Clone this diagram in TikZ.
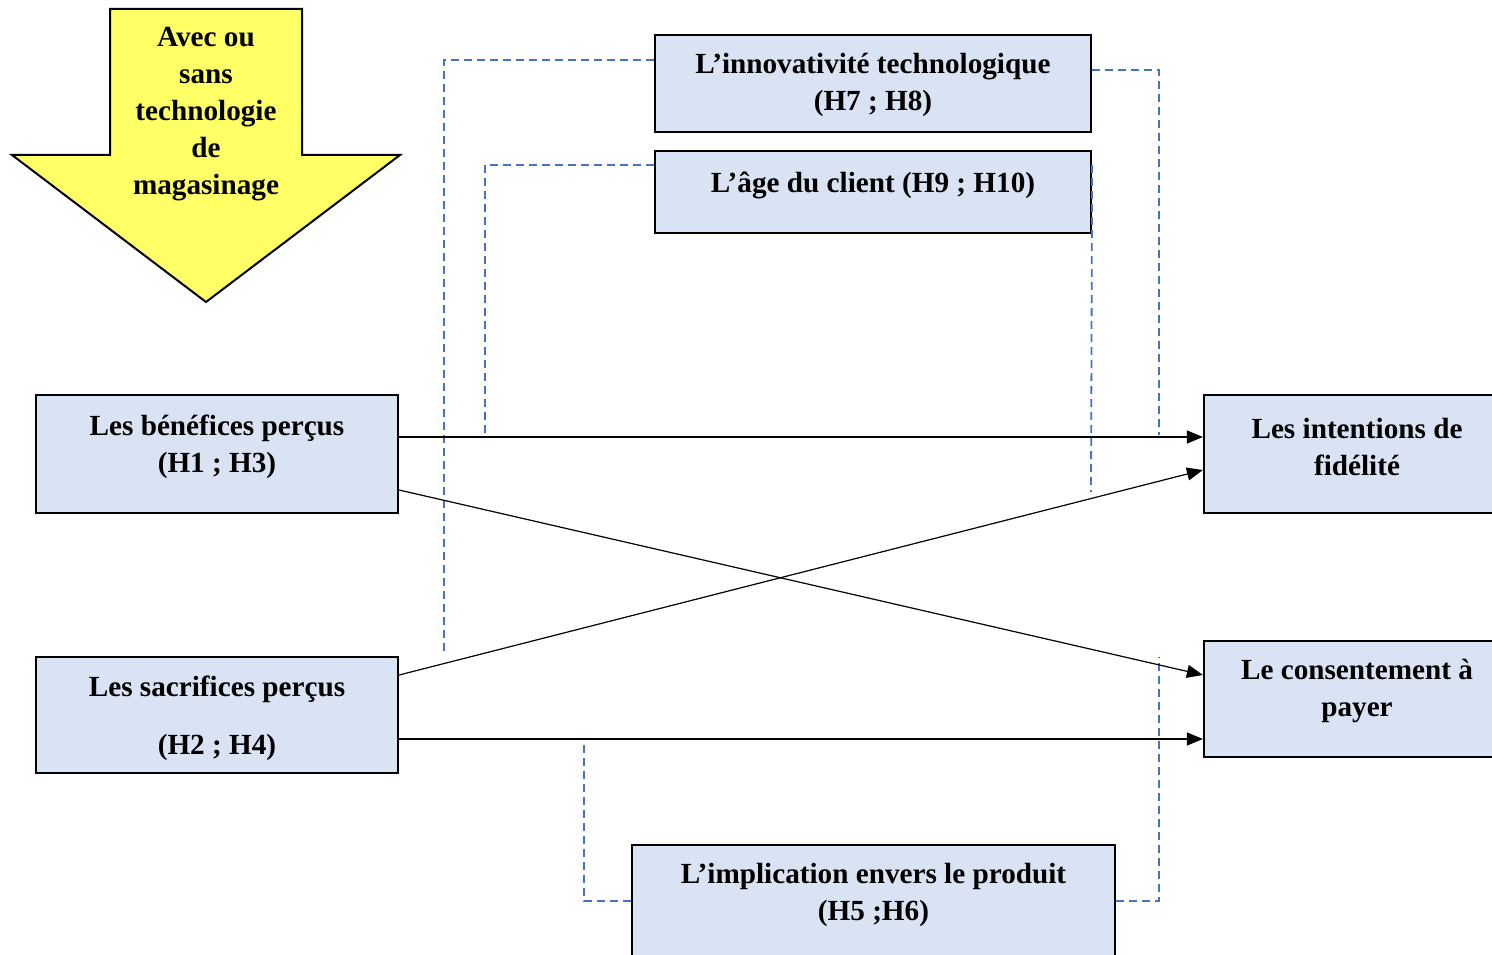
\documentclass[tikz,border=0pt]{standalone}
\usepackage{fontspec}
\setmainfont{Liberation Serif}
\usetikzlibrary{arrows.meta,calc}
\definecolor{boxfill}{HTML}{DAE3F3}
\definecolor{dashblue}{HTML}{4472C4}
\definecolor{arrowyellow}{HTML}{FFFF66}
\tikzset{
  box/.style={draw=black, line width=2.2pt, fill=boxfill, inner sep=0pt},
  txt/.style={align=center, inner sep=0pt, font=\fontsize{29.2}{37}\selectfont\bfseries},
  link/.style={line width=1.2pt, -{Triangle[length=16pt,width=13pt]}},
  modline/.style={draw=dashblue, line width=1.8pt, dash pattern=on 8pt off 5pt},
}
\begin{document}
\begin{tikzpicture}[x=1pt,y=-1pt]
\useasboundingbox (0,0) rectangle (1492,955);
% yellow arrow
\draw[fill=arrowyellow, line width=2pt, line join=miter]
  (110,9) -- (302,9) -- (302,155) -- (400,155) -- (206,302) -- (12,155) -- (110,155) -- cycle;
\node[txt] (ytext) at (206,114) {Avec ou\\sans\\technologie\\de\\magasinage};
% boxes
\node[box, minimum width=436, minimum height=97] (inn) at (873,83.5) {};
\node[txt] (inntext) at (873,85) {L’innovativité technologique\\(H7 ; H8)};
\node[box, minimum width=436, minimum height=82] (age) at (873,192) {};
\node[txt] (agetext) at (873,185) {L’âge du client (H9 ; H10)};
\node[box, minimum width=362, minimum height=118] (ben) at (217,454) {};
\node[txt] (bentext) at (217,447) {Les bénéfices perçus\\(H1 ; H3)};
\node[box, minimum width=362, minimum height=116] (sac) at (217,715) {};
\node[txt] (sactext) at (217,718) {Les sacrifices perçus\\[21pt](H2 ; H4)};
\node[box, minimum width=306, minimum height=118] (int) at (1357,454) {};
\node[txt] (inttext) at (1357,447) {Les intentions de\\fidélité};
\node[box, minimum width=306, minimum height=116] (con) at (1357,699) {};
\node[txt] (context) at (1357,691) {Le consentement à\\payer};
\node[box, minimum width=483, minimum height=130] (imp) at (873.5,910) {};
\node[txt] (imptext) at (873.5,895) {L’implication envers le produit\\(H5 ;H6)};
% dashed moderator lines
\coordinate (d1) at (444,655);
\coordinate (d2) at (1159,435);
\coordinate (d3) at (485,435);
\coordinate (d4) at (1091,492);
\coordinate (d5) at (584,739);
\coordinate (d6) at (1159,657);
\draw[modline] ([yshift=23.5pt]inn.west) -| (d1);
\draw[modline] ([yshift=13.5pt]inn.east) -| (d2);
\draw[modline] ([yshift=27pt]age.west) -| (d3);
\draw[modline] ([yshift=27pt]age.east) -- (d4);
\draw[modline] ([yshift=9pt]imp.west) -| (d5);
\draw[modline] ([yshift=9pt]imp.east) -| (d6);
% arrows
\draw[link] ([yshift=17pt]ben.east) -- ([yshift=17pt]int.west);
\draw[link] ([yshift=-36pt]ben.east) -- ([yshift=24pt]con.west);
\draw[link] ([yshift=40pt]sac.east) -- ([yshift=-16pt]int.west);
\draw[link] ([yshift=-24pt]sac.east) -- ([yshift=-40pt]con.west);
\end{tikzpicture}
\end{document}
